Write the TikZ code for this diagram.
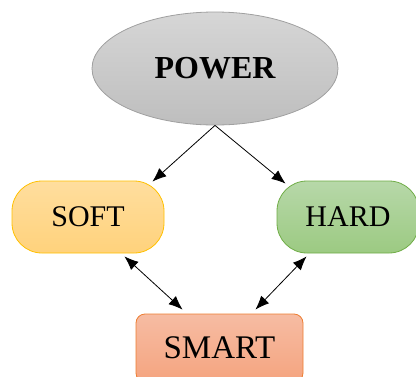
\documentclass[tikz,border=0pt]{standalone}
\usepackage{fontspec}
\setmainfont{Liberation Serif}
\usetikzlibrary{shapes.geometric,arrows.meta}
\definecolor{softtop}{HTML}{FFDE9E}
\definecolor{softbot}{HTML}{FFD27C}
\definecolor{softline}{HTML}{FFC000}
\definecolor{hardtop}{HTML}{B7D8A9}
\definecolor{hardbot}{HTML}{9CCA82}
\definecolor{hardline}{HTML}{70AD47}
\definecolor{smarttop}{HTML}{F6BCA3}
\definecolor{smartbot}{HTML}{F5A47F}
\definecolor{smartline}{HTML}{ED7D31}
\definecolor{powtop}{HTML}{D6D6D6}
\definecolor{powbot}{HTML}{BEBEBE}
\definecolor{powline}{HTML}{A0A0A0}
\tikzset{
  box/.style={draw, line width=0.8pt, inner sep=0pt, font=\fontsize{30}{32}\selectfont},
  conn/.style={line width=0.8pt, {Latex[length=14pt,width=11pt]}-{Latex[length=14pt,width=11pt]}},
  oneway/.style={line width=0.8pt, -{Latex[length=14pt,width=11pt]}}
}
\begin{document}
\begin{tikzpicture}[x=1pt,y=-1pt]
\useasboundingbox (0,0) rectangle (416,376);
\node[ellipse, draw=powline, line width=0.8pt, top color=powtop, bottom color=powbot,
  minimum width=246pt, minimum height=113pt, inner sep=0pt,
  font=\fontsize{32}{34}\selectfont\bfseries] (power) at (215,68.5) {POWER};
\node[box, draw=softline, top color=softtop, bottom color=softbot, rounded corners=30pt,
  minimum width=152pt, minimum height=72pt] (soft) at (88,217) {SOFT};
\node[box, draw=hardline, top color=hardtop, bottom color=hardbot, rounded corners=30pt,
  minimum width=142pt, minimum height=72pt] (hard) at (348,217) {HARD};
\node[box, draw=smartline, top color=smarttop, bottom color=smartbot, rounded corners=9pt,
  minimum width=167pt, minimum height=68pt, font=\fontsize{33}{35}\selectfont] (smart) at (219.5,348) {SMART};
\draw[oneway] (power.south) -- ([xshift=-12pt,yshift=-1pt]soft.north east);
\draw[oneway] (power.south) -- ([xshift=9pt,yshift=-3pt]hard.north west);
\draw[conn] ([xshift=-40pt,yshift=-3pt]soft.south east) -- ([xshift=47pt,yshift=4pt]smart.north west);
\draw[conn] ([xshift=30pt,yshift=-3pt]hard.south west) -- ([xshift=-48pt,yshift=4pt]smart.north east);
\end{tikzpicture}
\end{document}
